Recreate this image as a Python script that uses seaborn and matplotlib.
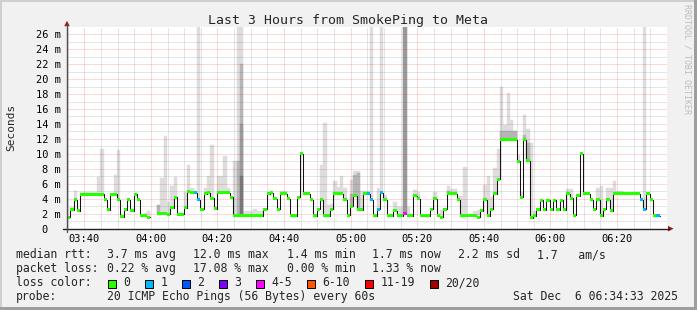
import numpy as np
import pandas as pd
import matplotlib
matplotlib.use("Agg")
import matplotlib.pyplot as plt
import matplotlib.transforms as mtransforms
from matplotlib.patches import Rectangle, Polygon
from matplotlib.lines import Line2D
import seaborn as sns

nan = float("nan")

# ---------------- data (one value per minute, ms) ----------------
median_ms = [
    1.5, 2.5, 3.9, 2.4, 4.6, 4.6, 4.6, 4.6, 4.6, 4.6,
    4.6, 3.9, 2.5, 4.6, 4.6, 3.9, 1.6, 2.5, 3.9, 2.4,
    4.6, 3.9, 1.7, 1.7, 1.55, nan, nan, 2.05, 2.05, 2.05,
    1.9, 2.8, 4.2, 1.85, 1.95, 2.8, 5.0, 4.8, 4.8, 3.9,
    2.6, 4.7, 4.8, 4.05, 2.7, 4.8, 4.8, 4.8, 4.8, 4.2,
    1.83, 1.83, 1.74, 1.74, 1.74, 1.74, 1.74, 1.74, 1.74, 2.6,
    4.7, 4.8, 4.0, 2.6, 4.7, 4.7, 4.0, 1.74, 1.74, 4.2,
    10.0, 4.7, 4.7, 3.9, 1.74, 2.6, 3.9, 1.74, 1.74, 2.6,
    4.7, 4.7, 4.7, 3.9, 1.8, 3.0, 4.4, 2.5, 2.5, 4.7,
    4.7, 3.9, 1.74, 2.6, 4.8, 3.9, 1.74, 1.74, 2.4, 1.74,
    1.74, 2.0, 1.74, 1.74, 4.4, 4.0, 1.74, 1.74, 1.74, 2.6,
    4.0, 1.74, 1.56, 2.6, 4.7, 4.7, 4.7, 3.9, 1.74, 1.74,
    1.74, 1.74, 1.74, 1.56, 2.4, 3.9, 1.74, 2.6, 4.7, 6.6,
    11.9, 11.9, 11.9, 11.9, 11.9, 9.05, 4.2, 11.9, 9.1, 1.47,
    1.7, 2.5, 3.8, 2.5, 3.8, 2.5, 3.8, 2.5, 3.8, 2.5,
    4.7, 4.05, 1.8, 4.4, 10.0, 4.7, 4.7, 3.9, 2.6, 3.9,
    1.74, 2.6, 3.9, 2.4, 4.7, 4.7, 4.7, 4.7, 4.7, 4.7,
    4.7, 4.7, 3.9, 2.6, 4.7, 3.9, 1.74, 1.74,
]
prev_median_ms = 9.2

loss_minutes = [38, 39, 90, 91, 93, 94, 101, 172, 173, 177]
loss_counts = [1, 1, 1, 1, 1, 1, 4, 1, 1, 1]

# smoke (max of the pings per minute), light band
smoke_max_ms = {
    1: 2.9, 2: 5.0, 4: 4.95, 5: 4.95, 6: 4.95, 7: 4.95, 8: 4.95, 9: 6.95, 10: 10.65,
    14: 7.2, 15: 10.5, 23: 2.1, 24: 2.4, 27: 3.2, 28: 6.8, 29: 12.4, 30: 3.6,
    31: 5.7, 32: 6.9, 35: 4.9, 36: 8.5, 37: 5.4, 38: 5.0, 39: 26.9, 41: 5.4,
    42: 7.0, 43: 11.2, 45: 7.0, 46: 7.0, 47: 9.7, 48: 5.4, 50: 9.0, 51: 26.9,
    52: 26.9, 53: 2.3, 54: 2.3, 55: 2.3, 56: 2.7, 57: 2.3, 58: 2.3, 64: 5.0,
    65: 5.0, 70: 10.3, 76: 8.5, 77: 14.1, 78: 3.2, 79: 3.3, 80: 6.4, 81: 5.6,
    82: 7.0, 83: 5.4, 85: 6.5, 86: 7.75, 87: 7.75, 88: 5.0, 89: 5.0, 90: 5.0,
    91: 26.9, 93: 5.4, 94: 26.9, 95: 4.5, 98: 3.6, 99: 2.9, 100: 2.9, 101: 26.9,
    102: 2.9, 104: 5.2, 105: 4.9, 110: 4.9, 112: 2.5, 114: 5.7, 115: 5.3,
    116: 5.3, 117: 4.4, 118: 4.4, 119: 8.3, 122: 2.4, 123: 2.5, 125: 5.9,
    126: 7.0, 127: 4.2, 128: 8.15, 129: 10.7, 130: 19.0, 131: 13.9, 132: 18.1,
    133: 14.5, 134: 13.0, 135: 9.85, 136: 4.9, 137: 15.2, 138: 13.3, 139: 11.5,
    140: 2.3, 150: 5.3, 151: 5.3, 154: 10.3, 159: 5.4, 160: 5.7, 162: 5.4,
    163: 5.4, 164: 6.4, 165: 5.1, 166: 5.1, 173: 26.9, 175: 4.0,
}
smoke_mid_ms = {27: 3.2, 51: 9.0, 52: 22.0, 85: 4.7, 86: 7.2, 87: 7.5, 114: 5.0,
                130: 13.0, 131: 13.0, 132: 13.0, 133: 13.0, 134: 13.0, 137: 12.5,
                138: 11.5}
smoke_dark_ms = {52: 14.0, 101: 26.9}
smoke_darkest_ms = {52: 7.0}

time_labels = ["03:40", "04:00", "04:20", "04:40", "05:00", "05:20", "05:40",
               "06:00", "06:20"]
first_label_minute = 5.2      # 03:40 relative to left edge of the graph
y_values = list(range(0, 27, 2))
y_labels = ["0  "] + [f"{v} m" for v in y_values[1:]]

loss_legend_labels = ["0", "1", "2", "3", "4-5", "6-10", "11-19", "20/20"]
loss_legend_colors = ["#26ff00", "#00b8ff", "#0059ff", "#7e00ff", "#ff00ff",
                      "#ff5500", "#ff0000", "#a10000"]
loss_legend_upper = [0, 1, 2, 3, 5, 10, 19, 20]

title = "Last 3 Hours from SmokePing to Meta"
rtt_stats = ["median rtt:", "3.7 ms avg", "12.0 ms max", "1.4 ms min",
             "1.7 ms now", "2.2 ms sd", "1.7   am/s"]
loss_stats = ["packet loss:", "0.22 % avg", "17.08 % max", "0.00 % min",
              "1.33 % now"]
probe_text = ["probe:", "20 ICMP Echo Pings (56 Bytes) every 60s",
              "Sat Dec  6 06:34:33 2025"]

# ---------------- figure ----------------
sns.set_style("white")
plt.rcParams["font.family"] = ["DejaVu Sans Mono"]
plt.rcParams["lines.scale_dashes"] = False

W, H = 697, 310
fig = plt.figure(figsize=(W / 100, H / 100), dpi=100, facecolor="#f1f1f1")
px = mtransforms.Affine2D().scale(1 / W, -1 / H).translate(0, 1) + fig.transFigure

X0, X1, Y0, Y1 = 67, 667, 228.7, 27
PX_PER_MS = 7.48
ax = fig.add_axes([X0 / W, 1 - Y0 / H, (X1 - X0) / W, (Y0 - Y1) / H])
ax.set_facecolor("white")
ax.set_xlim(0, 180)
ax.set_ylim(0, (Y0 - Y1) / PX_PER_MS)

med = np.array(median_ms, dtype=float)


def smoke_layer(d, color, z):
    m = np.array(list(d.keys()))
    t = np.array(list(d.values()))
    base = np.nan_to_num(med[m])
    ax.bar(m, t - base, bottom=base, width=1, align="edge", color=color,
           edgecolor=color, linewidth=0.3, zorder=z)


smoke_layer(smoke_max_ms, "#dddddd", 1.0)
smoke_layer(smoke_mid_ms, "#b5b5b5", 1.1)
smoke_layer(smoke_dark_ms, "#999999", 1.2)
smoke_layer(smoke_darkest_ms, "#777777", 1.3)

# median step line (seaborn)
rows = []
seg = 0
i = 0
n = len(med)
while i < n:
    if np.isnan(med[i]):
        i += 1
        continue
    j = i
    while j + 1 < n and not np.isnan(med[j + 1]):
        j += 1
    if i == 0:
        rows.append((0, prev_median_ms, seg))
    for k in range(i, j + 1):
        rows.append((k, med[k], seg))
    rows.append((j + 1, med[j], seg))
    seg += 1
    i = j + 1
df = pd.DataFrame(rows, columns=["t", "ms", "seg"])
sns.lineplot(data=df, x="t", y="ms", units="seg", estimator=None, sort=False,
             drawstyle="steps-post", color="#141414", linewidth=0.75,
             legend=False, ax=ax, zorder=3)
ax.set_xlabel("")
ax.set_ylabel("")

# loss-coloured median bands
loss_of = dict(zip(loss_minutes, loss_counts))
valid = np.where(~np.isnan(med))[0]
band_cols = []
for k in valid:
    c = loss_of.get(k, 0)
    for up, col in zip(loss_legend_upper, loss_legend_colors):
        if c <= up:
            band_cols.append(col)
            break
band = 3.0 / PX_PER_MS
ax.bar(valid, band, bottom=med[valid] - band / 2, width=1, align="edge",
       color=band_cols, linewidth=0, zorder=4)

# ticks / grid
ax.set_xticks([first_label_minute + 20 * k for k in range(len(time_labels))])
ax.set_xticklabels(time_labels)
ax.set_xticks([first_label_minute - 5 + 5 * k for k in range(37)], minor=True)
ax.set_yticks(y_values)
ax.set_yticklabels(y_labels)
ax.set_yticks(list(range(1, 27, 2)), minor=True)
ax.grid(which="major", color="#ff2020", alpha=0.35, linestyle=(0, (0.72, 0.72)),
        linewidth=0.72)
ax.grid(which="minor", color="#707070", alpha=0.35, linestyle=(0, (0.72, 0.72)),
        linewidth=0.72)
ax.set_axisbelow(False)
ax.tick_params(which="major", length=2, width=0.7, color="#404040",
               labelsize=7.5, labelcolor="black")
ax.tick_params(axis="x", which="major", pad=1.6)
ax.tick_params(axis="y", which="major", pad=2.6)
ax.tick_params(which="minor", length=1.2, width=0.6, color="#404040")
for s in ax.spines.values():
    s.set_visible(False)

# axis lines and arrows
fig.add_artist(Line2D([62.7, 669], [Y0, Y0], transform=px, color="#202020", lw=1.0))
fig.add_artist(Line2D([X0, X0], [231.5, 24], transform=px, color="#505050", lw=1.0))
fig.add_artist(Polygon([(668, 225.9), (673.6, 228.7), (668, 231.5)], closed=True,
                       transform=px, color="#9b1b1b", lw=0))
fig.add_artist(Polygon([(64.2, 26.2), (67, 20.8), (69.8, 26.2)], closed=True,
                       transform=px, color="#9b1b1b", lw=0))

# frame shading
fig.add_artist(Rectangle((0, 0), W, 2, transform=px, color="#cfcfcf", lw=0))
fig.add_artist(Rectangle((0, 0), 2, H, transform=px, color="#cfcfcf", lw=0))
fig.add_artist(Rectangle((0, H - 3), W, 3, transform=px, color="#9e9e9e", lw=0))
fig.add_artist(Rectangle((W - 3, 0), 3, H, transform=px, color="#9e9e9e", lw=0))

# texts
fig.text(348, 24, title, transform=px, ha="center", va="baseline", fontsize=9.5)
fig.text(11, 127.5, "Seconds", transform=px, ha="center", va="center",
         rotation=90, fontsize=8)
fig.text(687, 4, "RRDTOOL / TOBI OETIKER", transform=px, ha="center", va="top",
         rotation=270, fontsize=6, color="#bdbdbd")

LF = 8.3
for s, x in zip(rtt_stats, [16, 107.3, 193.3, 286.7, 372.3, 458.3, 537.3]):
    fig.text(x, 258.3, s, transform=px, ha="left", va="baseline", fontsize=LF)
for s, x in zip(loss_stats, [16, 107.3, 193.3, 287.3, 372.3]):
    fig.text(x, 272.3, s, transform=px, ha="left", va="baseline", fontsize=LF)
fig.text(16, 286.3, "loss color:", transform=px, ha="left", va="baseline", fontsize=LF)
for lab, col, bx in zip(loss_legend_labels, loss_legend_colors,
                        [108.3, 145.3, 182.3, 219.3, 256.3, 307.3, 365.3, 430.3]):
    fig.add_artist(Rectangle((bx, 280), 7.7, 7.7, transform=px, facecolor=col,
                             edgecolor="black", lw=0.7))
    fig.text(bx + 15, 286.3, lab, transform=px, ha="left", va="baseline", fontsize=LF)
for s, x in zip(probe_text, [16, 107.3, 513.3]):
    fig.text(x, 299.7, s, transform=px, ha="left", va="baseline", fontsize=LF)

fig.savefig("out.png", dpi=100, facecolor=fig.get_facecolor())
